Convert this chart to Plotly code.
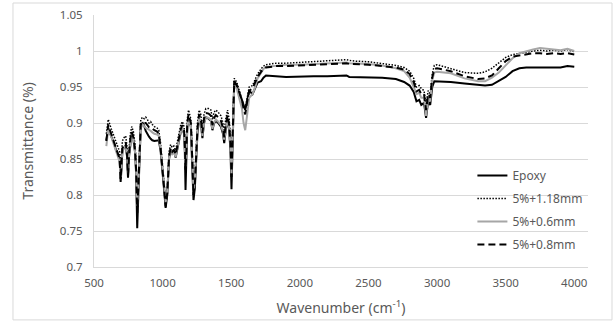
import plotly.graph_objects as go

wavenumber = [590, 604, 620, 634, 646, 658, 672, 687, 694, 700, 707, 720, 731, 740, 748, 756, 765, 775, 787, 799,
              807, 815, 823, 832, 841, 855, 866, 877, 889, 901, 913, 925, 940, 960, 972, 985, 1000, 1012, 1022, 1034,
              1047, 1058, 1070, 1082, 1095, 1107, 1120, 1133, 1144, 1156, 1162, 1167, 1173, 1180, 1189, 1206, 1216, 1225, 1235, 1245,
              1254, 1266, 1278, 1290, 1302, 1315, 1335, 1352, 1363, 1375, 1388, 1405, 1425, 1440, 1449, 1460, 1473, 1485, 1495, 1502,
              1510, 1522, 1540, 1558, 1578, 1590, 1602, 1615, 1631, 1655, 1675, 1692, 1717, 1735, 1753, 1790, 1826, 1900, 2000, 2100,
              2200, 2300, 2340, 2360, 2400, 2500, 2600, 2700, 2760, 2800, 2830, 2850, 2870, 2885, 2905, 2920, 2935, 2950, 2965, 2980,
              3000, 3050, 3100, 3200, 3300, 3350, 3400, 3450, 3500, 3550, 3600, 3650, 3700, 3750, 3800, 3850, 3900, 3950, 4000]

epoxy = [0.876, 0.893, 0.884, 0.878, 0.872, 0.864, 0.858, 0.848, 0.818, 0.835, 0.862, 0.866, 0.869, 0.855, 0.824, 0.855, 0.875, 0.886, 0.878, 0.860,
         0.830, 0.754, 0.800, 0.870, 0.898, 0.900, 0.896, 0.889, 0.884, 0.881, 0.878, 0.876, 0.875, 0.875, 0.876, 0.862, 0.834, 0.805, 0.782, 0.800,
         0.850, 0.863, 0.858, 0.861, 0.852, 0.864, 0.876, 0.888, 0.893, 0.885, 0.860, 0.807, 0.850, 0.895, 0.905, 0.895, 0.840, 0.793, 0.810, 0.860,
         0.886, 0.905, 0.900, 0.879, 0.900, 0.908, 0.906, 0.903, 0.890, 0.900, 0.903, 0.900, 0.895, 0.885, 0.872, 0.890, 0.905, 0.890, 0.860, 0.808,
         0.880, 0.958, 0.952, 0.940, 0.932, 0.925, 0.918, 0.930, 0.945, 0.940, 0.948, 0.956, 0.958, 0.963, 0.966, 0.965, 0.965, 0.964, 0.965, 0.965,
         0.965, 0.965, 0.966, 0.964, 0.964, 0.964, 0.963, 0.961, 0.957, 0.952, 0.943, 0.930, 0.932, 0.925, 0.928, 0.907, 0.930, 0.925, 0.950, 0.958,
         0.958, 0.957, 0.957, 0.955, 0.953, 0.952, 0.953, 0.958, 0.964, 0.972, 0.976, 0.977, 0.977, 0.978, 0.978, 0.978, 0.977, 0.979, 0.978]

s_118 = [0.885, 0.905, 0.895, 0.888, 0.882, 0.875, 0.870, 0.860, 0.835, 0.850, 0.875, 0.880, 0.882, 0.868, 0.840, 0.865, 0.885, 0.895, 0.888, 0.870,
         0.845, 0.785, 0.820, 0.880, 0.905, 0.908, 0.906, 0.908, 0.905, 0.900, 0.902, 0.898, 0.895, 0.893, 0.890, 0.872, 0.845, 0.815, 0.790, 0.810,
         0.860, 0.870, 0.866, 0.868, 0.862, 0.873, 0.888, 0.898, 0.902, 0.895, 0.880, 0.850, 0.870, 0.905, 0.918, 0.905, 0.860, 0.810, 0.825, 0.875,
         0.900, 0.918, 0.912, 0.893, 0.912, 0.920, 0.920, 0.918, 0.905, 0.915, 0.918, 0.915, 0.910, 0.900, 0.888, 0.905, 0.918, 0.905, 0.880, 0.840,
         0.890, 0.962, 0.957, 0.945, 0.935, 0.925, 0.920, 0.935, 0.950, 0.952, 0.960, 0.968, 0.975, 0.979, 0.981, 0.982, 0.983, 0.983, 0.984, 0.985,
         0.986, 0.987, 0.988, 0.987, 0.986, 0.985, 0.983, 0.980, 0.977, 0.972, 0.962, 0.950, 0.952, 0.948, 0.945, 0.925, 0.945, 0.940, 0.968, 0.980,
         0.981, 0.978, 0.976, 0.970, 0.969, 0.971, 0.976, 0.984, 0.991, 0.995, 0.996, 0.998, 1.000, 1.001, 1.000, 1.001, 1.000, 1.002, 0.999]

s_06 = [0.868, 0.892, 0.884, 0.876, 0.868, 0.862, 0.855, 0.846, 0.825, 0.838, 0.860, 0.866, 0.868, 0.856, 0.830, 0.855, 0.874, 0.884, 0.877, 0.860,
        0.835, 0.785, 0.815, 0.870, 0.893, 0.898, 0.895, 0.893, 0.892, 0.891, 0.889, 0.887, 0.885, 0.884, 0.882, 0.865, 0.840, 0.812, 0.790, 0.805,
        0.852, 0.862, 0.857, 0.860, 0.853, 0.863, 0.878, 0.888, 0.893, 0.886, 0.870, 0.840, 0.862, 0.895, 0.906, 0.895, 0.850, 0.805, 0.820, 0.866,
        0.890, 0.907, 0.900, 0.882, 0.900, 0.908, 0.907, 0.904, 0.892, 0.901, 0.905, 0.902, 0.897, 0.888, 0.877, 0.892, 0.905, 0.892, 0.868, 0.830,
        0.880, 0.952, 0.948, 0.935, 0.920, 0.900, 0.890, 0.910, 0.935, 0.940, 0.950, 0.962, 0.970, 0.975, 0.978, 0.979, 0.980, 0.981, 0.981, 0.982,
        0.982, 0.983, 0.984, 0.983, 0.983, 0.982, 0.980, 0.976, 0.972, 0.963, 0.950, 0.940, 0.942, 0.935, 0.935, 0.910, 0.935, 0.930, 0.960, 0.970,
        0.971, 0.970, 0.969, 0.962, 0.958, 0.958, 0.963, 0.970, 0.980, 0.990, 0.997, 1.000, 1.002, 1.004, 1.003, 1.002, 1.001, 1.003, 1.000]

s_08 = [0.875, 0.898, 0.888, 0.880, 0.872, 0.865, 0.858, 0.850, 0.822, 0.838, 0.865, 0.870, 0.873, 0.858, 0.828, 0.857, 0.878, 0.888, 0.880, 0.862,
        0.835, 0.775, 0.810, 0.872, 0.898, 0.902, 0.900, 0.900, 0.897, 0.894, 0.894, 0.892, 0.890, 0.888, 0.885, 0.866, 0.838, 0.808, 0.784, 0.803,
        0.853, 0.865, 0.860, 0.863, 0.856, 0.867, 0.882, 0.892, 0.897, 0.890, 0.872, 0.835, 0.860, 0.900, 0.912, 0.900, 0.850, 0.800, 0.815, 0.866,
        0.893, 0.912, 0.906, 0.886, 0.906, 0.914, 0.913, 0.910, 0.897, 0.907, 0.911, 0.908, 0.903, 0.893, 0.880, 0.897, 0.911, 0.897, 0.870, 0.825,
        0.885, 0.958, 0.953, 0.942, 0.932, 0.920, 0.912, 0.928, 0.945, 0.948, 0.956, 0.964, 0.971, 0.975, 0.977, 0.978, 0.979, 0.979, 0.980, 0.981,
        0.981, 0.982, 0.983, 0.982, 0.982, 0.981, 0.979, 0.977, 0.974, 0.968, 0.957, 0.944, 0.946, 0.940, 0.940, 0.918, 0.940, 0.935, 0.963, 0.975,
        0.976, 0.974, 0.972, 0.965, 0.961, 0.962, 0.966, 0.976, 0.986, 0.992, 0.994, 0.996, 0.997, 0.997, 0.996, 0.997, 0.996, 0.997, 0.995]

series_names = ["Epoxy", "5%+1.18mm", "5%+0.6mm", "5%+0.8mm"]
x_ticks = [500, 1000, 1500, 2000, 2500, 3000, 3500, 4000]
y_ticks = [0.7, 0.75, 0.8, 0.85, 0.9, 0.95, 1, 1.05]

FONT = "Noto Sans"
TXT = "#595959"
GRID = "#d9d9d9"

styles = [
    dict(color="black", width=2),
    dict(color="black", width=1.5, dash="1.5px,1.5px"),
    dict(color="#a6a6a6", width=2),
    dict(color="black", width=2, dash="7px,4px"),
]

fig = go.Figure()
for name, ys, st in zip(series_names, [epoxy, s_118, s_06, s_08], styles):
    fig.add_trace(go.Scatter(x=wavenumber, y=ys, mode="lines", name=name, line=st,
                             legendgroup=name))

fig.update_layout(
    width=616, height=321,
    margin=dict(l=94, r=28, t=15, b=54, autoexpand=False),
    paper_bgcolor="white", plot_bgcolor="white",
    font=dict(family=FONT, color=TXT),
    showlegend=True,
    legend=dict(x=0.766, y=0.226, xanchor="left", yanchor="middle",
                bgcolor="rgba(0,0,0,0)", font=dict(size=12, color=TXT, family=FONT),
                traceorder="grouped", tracegroupgap=4, itemwidth=30),
    shapes=[dict(type="rect", xref="paper", yref="paper",
                 x0=-0.164, x1=1.0486, y0=-0.21, y1=1.0476,
                 line=dict(color=GRID, width=1), fillcolor="rgba(0,0,0,0)", layer="below")],
)
fig.update_xaxes(range=[500, 4100], tickvals=x_ticks, ticktext=[str(v) for v in x_ticks],
                 showgrid=False, showline=True, linecolor=GRID, linewidth=1, automargin=False,
                 ticks="", ticklabelstandoff=5, tickfont=dict(size=11.5, color=TXT), zeroline=False,
                 title=dict(text="Wavenumber (cm<sup>-1</sup>)", font=dict(size=14, color=TXT), standoff=14))
fig.update_yaxes(range=[0.7, 1.05], tickvals=y_ticks, ticktext=[f"{v:g}" for v in y_ticks],
                 showgrid=True, gridcolor=GRID, gridwidth=1, showline=True, linecolor=GRID, automargin=False,
                 ticks="", ticklabelstandoff=8, tickfont=dict(size=11.5, color=TXT), zeroline=False,
                 title=dict(text="Transmittance (%)", font=dict(size=14, color=TXT), standoff=22))

fig.write_html("out.html", config={"displayModeBar": False},
               post_script="document.body.style.margin='0px';")
